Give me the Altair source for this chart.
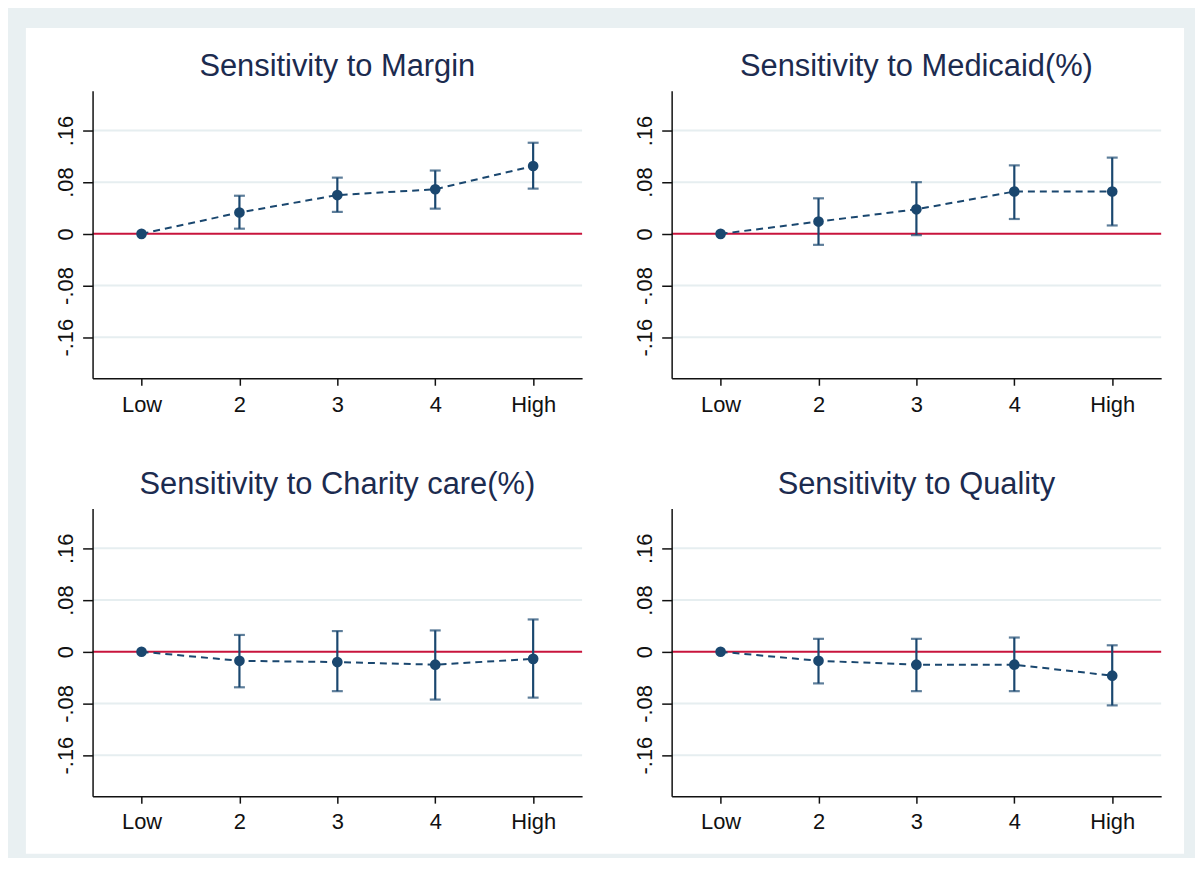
import altair as alt
import pandas as pd

# ---------------- data ----------------
CATS = ["Low", "2", "3", "4", "High"]
TITLES = [
    "Sensitivity to Margin",
    "Sensitivity to Medicaid(%)",
    "Sensitivity to Charity care(%)",
    "Sensitivity to Quality",
]

EST_MARGIN = [0.0, 0.033, 0.060, 0.069, 0.105]
LO_MARGIN = [None, 0.008, 0.034, 0.039, 0.070]
HI_MARGIN = [None, 0.059, 0.087, 0.098, 0.141]

EST_MEDICAID = [0.0, 0.019, 0.038, 0.0655, 0.0655]
LO_MEDICAID = [None, -0.017, -0.002, 0.023, 0.013]
HI_MEDICAID = [None, 0.055, 0.080, 0.106, 0.118]

EST_CHARITY = [0.0, -0.014, -0.016, -0.020, -0.011]
LO_CHARITY = [None, -0.055, -0.061, -0.074, -0.071]
HI_CHARITY = [None, 0.026, 0.032, 0.033, 0.050]

EST_QUALITY = [0.0, -0.014, -0.020, -0.020, -0.037]
LO_QUALITY = [None, -0.049, -0.061, -0.061, -0.083]
HI_QUALITY = [None, 0.020, 0.020, 0.022, 0.010]

Y_TICKS = [-0.16, -0.08, 0, 0.08, 0.16]
GRID_VALUES = [-0.16, -0.08, 0.08, 0.16]
ZERO_LINE = [0]

SERIES = [
    (EST_MARGIN, LO_MARGIN, HI_MARGIN),
    (EST_MEDICAID, LO_MEDICAID, HI_MEDICAID),
    (EST_CHARITY, LO_CHARITY, HI_CHARITY),
    (EST_QUALITY, LO_QUALITY, HI_QUALITY),
]

# ---------------- style ----------------
BG = "#e9f0f2"
NAVY = "#1a476f"
RED = "#c8143c"
GRID = "#e6eef0"
TITLE_COLOR = "#1c2b4f"
AXIS_COLOR = "#111111"
FONT = "Liberation Sans"

W, H = 492, 289


def panel(i, bottom_ext):
    est, lo, hi = SERIES[i]
    df = pd.DataFrame({"cat": CATS, "idx": list(range(len(CATS))),
                       "est": est, "lo": lo, "hi": hi})

    xs = alt.Scale(type="point", domain=CATS, padding=0.5)
    ys = alt.Scale(domain=[-0.2235, 0.2215], nice=False, zero=False)
    xaxis = alt.Axis(
        title=None, labelAngle=0, grid=False, zindex=2,
        domainColor=AXIS_COLOR, domainWidth=1.5,
        tickColor=AXIS_COLOR, tickWidth=1.5, tickSize=7,
        labelFont=FONT, labelFontSize=22, labelColor=AXIS_COLOR, labelPadding=9,
    )
    yaxis = alt.Axis(
        title=None, values=Y_TICKS, grid=False, zindex=2,
        domainColor=AXIS_COLOR, domainWidth=1.5,
        tickColor=AXIS_COLOR, tickWidth=1.5, tickSize=10,
        labelFont=FONT, labelFontSize=22, labelColor=AXIS_COLOR, labelPadding=10,
        labelAngle=270, labelAlign="center", labelBaseline="alphabetic",
        labelExpr=("datum.value == 0 ? '0' : (datum.value < 0 ? '-' : '') + "
                   "replace(format(abs(datum.value), '.2f'), '0.', '.')"),
    )
    X = alt.X("cat:O", scale=xs, axis=xaxis)

    # white panel background (decoration)
    back = alt.Chart(alt.Data(values=[{}])).mark_rect(color="white").encode(
        x=alt.value(-67), x2=alt.value(W + 23),
        y=alt.value(-63), y2=alt.value(H + bottom_ext),
    )
    grid = alt.Chart(pd.DataFrame({"v": GRID_VALUES})).mark_rule(
        color=GRID, strokeWidth=2
    ).encode(y=alt.Y("v:Q", scale=ys, axis=yaxis))
    zero = alt.Chart(pd.DataFrame({"v": ZERO_LINE})).mark_rule(
        color=RED, strokeWidth=2
    ).encode(y=alt.Y("v:Q", scale=ys, axis=yaxis))

    base = alt.Chart(df)
    valid = "isValid(datum.lo) && isFinite(datum.lo)"
    err = base.mark_rule(color=NAVY, strokeWidth=2.2).encode(
        x=X, y=alt.Y("lo:Q", scale=ys, axis=yaxis), y2="hi:Q"
    ).transform_filter(valid)
    cap_lo = base.mark_tick(color=NAVY, thickness=2.2, size=11).encode(
        x=X, y=alt.Y("lo:Q", scale=ys, axis=yaxis)
    ).transform_filter(valid)
    cap_hi = base.mark_tick(color=NAVY, thickness=2.2, size=11).encode(
        x=X, y=alt.Y("hi:Q", scale=ys, axis=yaxis)
    ).transform_filter(valid)
    line = base.mark_line(color=NAVY, strokeWidth=2, strokeDash=[7, 5]).encode(
        x=X, y=alt.Y("est:Q", scale=ys, axis=yaxis), order="idx:Q"
    )
    pts = base.mark_circle(color=NAVY, size=115, opacity=1).encode(
        x=X, y=alt.Y("est:Q", scale=ys, axis=yaxis)
    )

    return alt.layer(back, grid, zero, line, err, cap_lo, cap_hi, pts).properties(
        width=W, height=H,
        title=alt.TitleParams(
            text=TITLES[i], fontSize=31, font=FONT, fontWeight="normal",
            color=TITLE_COLOR, anchor="middle", frame="group",
            baseline="alphabetic", offset=-79,
        ),
    )


row1 = alt.hconcat(panel(0, 68), panel(1, 68), spacing=0)
row2 = alt.hconcat(panel(2, 58), panel(3, 58), spacing=0)

chart = alt.vconcat(row1, row2, spacing=0).properties(
    background=BG,
    padding={"left": 18, "top": 18, "right": 11, "bottom": 2},
).configure_view(stroke=None)

chart.save("out.html", embed_options={"renderer": "svg", "actions": False})
